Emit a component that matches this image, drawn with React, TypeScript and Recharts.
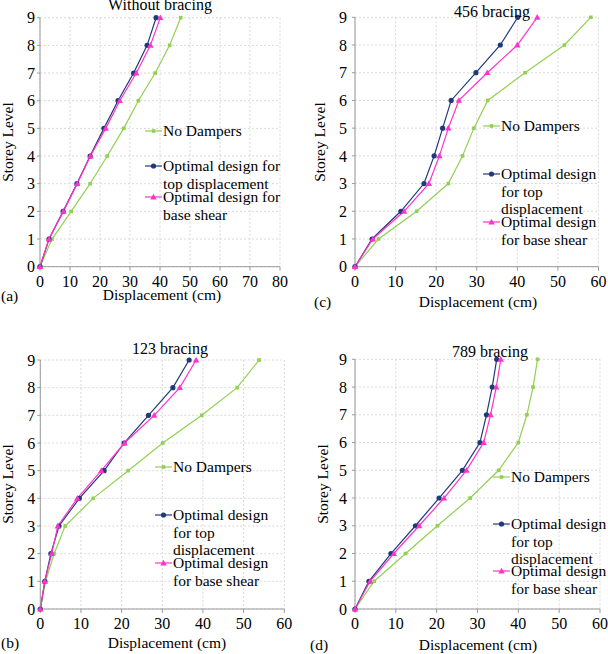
import React from "react";
import { LineChart, Line, XAxis, YAxis, CartesianGrid } from "recharts";

const levels = [0, 1, 2, 3, 4, 5, 6, 7, 8, 9];

// (a) Without bracing
const aNoDampers = [0, 4.0, 10.4, 16.7, 22.4, 27.9, 32.8, 38.4, 43.2, 46.9];
const aTopDisp = [0, 3.0, 7.7, 12.3, 16.7, 21.3, 26.0, 31.2, 35.7, 38.7];
const aBaseShear = [0, 3.0, 7.8, 12.4, 16.8, 21.9, 26.6, 32.1, 36.8, 40.1];

// (c) 456 bracing
const cNoDampers = [0, 5.8, 15.2, 23.0, 26.5, 29.3, 32.7, 41.9, 51.6, 58.1];
const cTopDisp = [0, 4.2, 11.3, 17.0, 19.5, 21.6, 23.7, 29.8, 35.8, 40.1];
const cBaseShear = [0, 4.4, 12.1, 18.2, 20.8, 23.0, 25.6, 32.6, 40.0, 44.9];

// (b) 123 bracing
const bNoDampers = [0, 1.3, 3.4, 6.1, 13.0, 21.6, 30.1, 39.7, 48.4, 53.8];
const bTopDisp = [0, 1.1, 2.6, 4.6, 9.6, 15.7, 20.6, 26.6, 32.6, 36.6];
const bBaseShear = [0, 1.1, 2.8, 4.3, 9.1, 15.0, 20.7, 28.0, 34.3, 38.3];

// (d) 789 bracing
const dNoDampers = [0, 4.7, 12.4, 20.2, 28.2, 35.2, 40.0, 42.1, 43.6, 44.7];
const dTopDisp = [0, 3.4, 8.8, 14.8, 20.6, 26.3, 30.6, 32.2, 33.6, 34.7];
const dBaseShear = [0, 3.7, 9.5, 15.7, 21.8, 27.3, 31.5, 33.2, 34.6, 35.7];

const ticks80 = [0, 10, 20, 30, 40, 50, 60, 70, 80];
const ticks60 = [0, 10, 20, 30, 40, 50, 60];

const GREEN = "#92D050";
const BLUE = "#1F3A7A";
const PINK = "#FF33CC";
const FONT = "Liberation Serif, DejaVu Serif, serif";

const toPoints = (values: number[]) =>
	levels.map((level, i) => ({ disp: values[i], level }));

const Marker = ({ kind, x, y, color }: any) => {
	if (kind === "circle") return <circle cx={x} cy={y} r={2.6} fill={color} />;
	if (kind === "triangle")
		return (
			<polygon
				points={`${x},${y - 3.3} ${x - 3.2},${y + 2.4} ${x + 3.2},${y + 2.4}`}
				fill={color}
			/>
		);
	return <rect x={x - 1.8} y={y - 1.8} width={3.6} height={3.6} fill={color} />;
};

const makeDot = (kind: string, color: string) => (props: any) => {
	const { cx, cy, index } = props;
	return (
		<g key={`dot-${kind}-${index}`}>
			<Marker kind={kind} x={cx} y={cy} color={color} />
		</g>
	);
};

const Txt = ({ x, y, children, size = 15.5, anchor = "center", rotate = false }: any) => (
	<div
		style={{
			position: "absolute",
			left: x,
			top: y,
			transform: `translate(${anchor === "center" ? "-50%" : "0"}, -50%)${rotate ? " rotate(-90deg)" : ""}`,
			whiteSpace: "nowrap",
			fontFamily: FONT,
			fontSize: size,
			lineHeight: 1,
			color: "#000",
		}}
	>
		{children}
	</div>
);

const LegendEntry = ({ x, y, lines, kind, color }: any) => (
	<div style={{ position: "absolute", left: x, top: y - 9, fontFamily: FONT }}>
		<svg width={18} height={18} style={{ position: "absolute", left: 0, top: 0 }}>
			<line x1={0} y1={9} x2={17} y2={9} stroke={color} strokeWidth={1.2} />
			<Marker kind={kind} x={8.5} y={9} color={color} />
		</svg>
		<div
			style={{
				position: "absolute",
				left: 18,
				top: 0,
				fontSize: 15.5,
				lineHeight: "17.5px",
				whiteSpace: "nowrap",
				color: "#000",
			}}
		>
			{lines.map((l: string, i: number) => (
				<div key={i}>{l}</div>
			))}
		</div>
	</div>
);

function Panel(p: any) {
	const tickStyle = { fill: "#000", fontSize: 16, fontFamily: FONT };
	const axisColor = "#9a9a9a";
	const xAxisH = p.height - p.plotBottom;
	return (
		<div
			style={{
				position: "absolute",
				left: p.left,
				top: p.top,
				width: p.width,
				height: p.height,
			}}
		>
			<LineChart
				width={p.width}
				height={p.height}
				margin={{
					top: p.plotTop,
					right: p.width - p.plotRight,
					left: 0,
					bottom: 0,
				}}
			>
				<CartesianGrid stroke="#d9d9d9" strokeDasharray="2 2" />
				<XAxis
					type="number"
					dataKey="disp"
					domain={[0, p.xMax]}
					ticks={p.xTicks}
					height={xAxisH}
					tickSize={4}
					tickMargin={5}
					tick={tickStyle}
					stroke={axisColor}
					interval={0}
				/>
				<YAxis
					type="number"
					dataKey="level"
					domain={[0, 9]}
					ticks={levels}
					width={p.plotLeft}
					tickSize={3}
					tickMargin={p.yTickMargin}
					tick={tickStyle}
					stroke={axisColor}
					interval={0}
				/>
				<Line
					data={toPoints(p.noDampers)}
					dataKey="level"
					stroke={GREEN}
					strokeWidth={1.2}
					dot={makeDot("square", GREEN)}
					isAnimationActive={false}
				/>
				<Line
					data={toPoints(p.topDisp)}
					dataKey="level"
					stroke={BLUE}
					strokeWidth={1.2}
					dot={makeDot("circle", BLUE)}
					isAnimationActive={false}
				/>
				<Line
					data={toPoints(p.baseShear)}
					dataKey="level"
					stroke={PINK}
					strokeWidth={1.2}
					dot={makeDot("triangle", PINK)}
					isAnimationActive={false}
				/>
			</LineChart>
			<Txt x={p.titleX} y={p.titleY} size={16}>
				{p.title}
			</Txt>
			<Txt x={p.xLabelX} y={p.xLabelY}>
				Displacement (cm)
			</Txt>
			<Txt x={p.yLabelX} y={p.yLabelY} rotate>
				Storey Level
			</Txt>
			<Txt x={p.letterX} y={p.letterY} anchor="left">
				{p.letter}
			</Txt>
			<LegendEntry x={p.legendX} y={p.legendY[0]} lines={["No Dampers"]} kind="square" color={GREEN} />
			<LegendEntry x={p.legendX} y={p.legendY[1]} lines={p.topLines} kind="circle" color={BLUE} />
			<LegendEntry x={p.legendX} y={p.legendY[2]} lines={p.baseLines} kind="triangle" color={PINK} />
		</div>
	);
}

export default function App() {
	const narrowTop = ["Optimal design", "for top", "displacement"];
	const narrowBase = ["Optimal design", "for base shear"];
	return (
		<div
			style={{
				position: "absolute",
				left: 0,
				top: 0,
				width: 608,
				height: 654,
				background: "#fff",
				overflow: "hidden",
			}}
		>
			<Panel
				left={0} top={0} width={300} height={310}
				plotLeft={40} plotRight={280} plotTop={17.7} plotBottom={266.7}
				xMax={80} xTicks={ticks80} yTickMargin={2}
				title="Without bracing" titleX={160} titleY={5}
				xLabelX={162} xLabelY={295} yLabelX={8} yLabelY={142}
				letter="(a)" letterX={1} letterY={296}
				legendX={145} legendY={[131, 166, 197]}
				topLines={["Optimal design for", "top displacement"]}
				baseLines={["Optimal design for", "base shear"]}
				noDampers={aNoDampers} topDisp={aTopDisp} baseShear={aBaseShear}
			/>
			<Panel
				left={300} top={0} width={308} height={310}
				plotLeft={55} plotRight={298.5} plotTop={17.3} plotBottom={266.7}
				xMax={60} xTicks={ticks60} yTickMargin={5}
				title="456 bracing" titleX={192} titleY={12}
				xLabelX={178} xLabelY={302} yLabelX={20} yLabelY={142}
				letter="(c)" letterX={14} letterY={302}
				legendX={183} legendY={[126, 174, 222]}
				topLines={narrowTop} baseLines={narrowBase}
				noDampers={cNoDampers} topDisp={cTopDisp} baseShear={cBaseShear}
			/>
			<Panel
				left={0} top={330} width={300} height={324}
				plotLeft={40.3} plotRight={284.3} plotTop={30} plotBottom={279}
				xMax={60} xTicks={ticks60} yTickMargin={2}
				title="123 bracing" titleX={170} titleY={19}
				xLabelX={167} xLabelY={313} yLabelX={8} yLabelY={154}
				letter="(b)" letterX={1} letterY={313}
				legendX={155} legendY={[137, 185, 233]}
				topLines={narrowTop} baseLines={narrowBase}
				noDampers={bNoDampers} topDisp={bTopDisp} baseShear={bBaseShear}
			/>
			<Panel
				left={300} top={330} width={308} height={324}
				plotLeft={55} plotRight={300} plotTop={29.3} plotBottom={279}
				xMax={60} xTicks={ticks60} yTickMargin={5}
				title="789 bracing" titleX={190} titleY={22}
				xLabelX={178} xLabelY={315} yLabelX={23} yLabelY={154}
				letter="(d)" letterX={10} letterY={315}
				legendX={193} legendY={[147, 194, 241]}
				topLines={narrowTop} baseLines={narrowBase}
				noDampers={dNoDampers} topDisp={dTopDisp} baseShear={dBaseShear}
			/>
		</div>
	);
}
